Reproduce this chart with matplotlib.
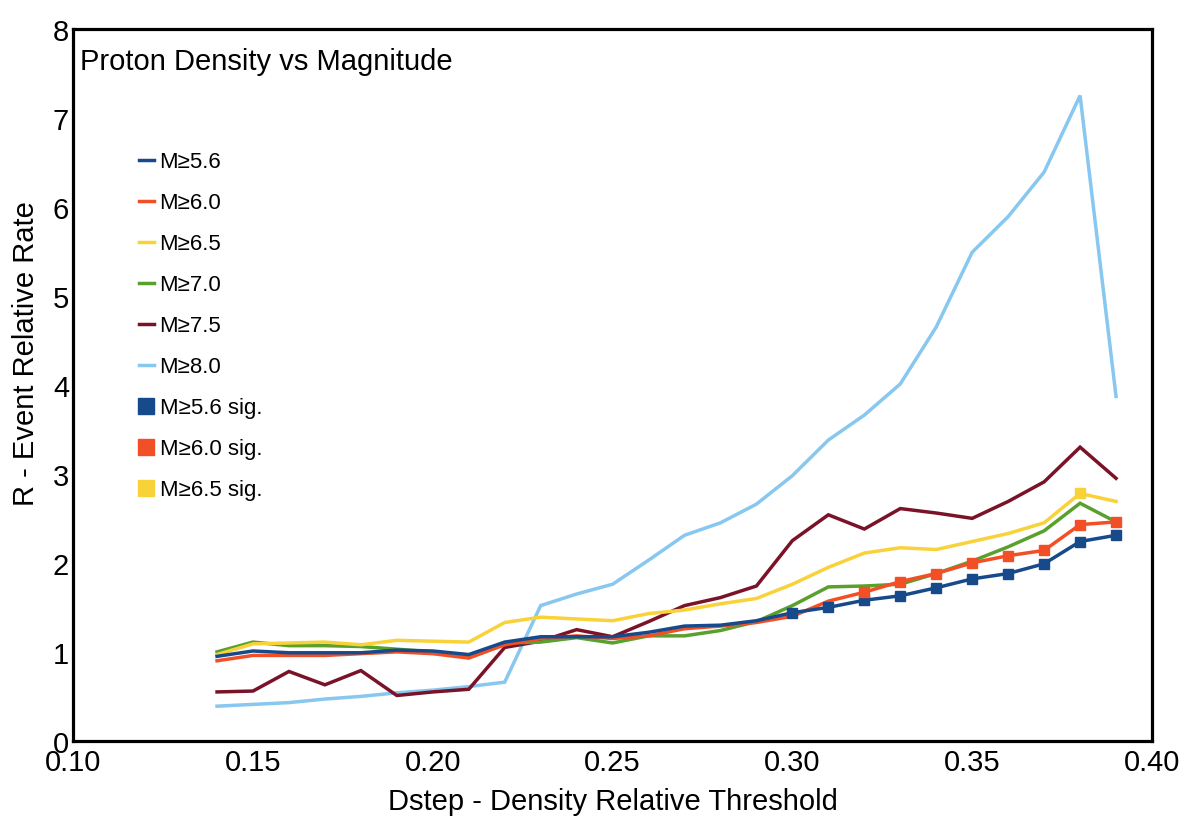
import matplotlib
matplotlib.use("Agg")
import matplotlib.pyplot as plt
from matplotlib.lines import Line2D

plt.rcParams['font.family'] = ['Liberation Sans', 'DejaVu Sans']

dstep = [0.14, 0.15, 0.16, 0.17, 0.18, 0.19, 0.20, 0.21, 0.22, 0.23, 0.24, 0.25, 0.26,
         0.27, 0.28, 0.29, 0.30, 0.31, 0.32, 0.33, 0.34, 0.35, 0.36, 0.37, 0.38, 0.39]

m56 = [0.95, 1.01, 0.99, 0.99, 0.99, 1.02, 1.01, 0.97, 1.11, 1.17, 1.17, 1.17, 1.22,
       1.29, 1.30, 1.35, 1.44, 1.50, 1.58, 1.63, 1.72, 1.82, 1.88, 1.99, 2.24, 2.31]
m60 = [0.90, 0.96, 0.96, 0.96, 0.98, 1.00, 0.98, 0.93, 1.08, 1.15, 1.18, 1.15, 1.18,
       1.26, 1.29, 1.33, 1.40, 1.57, 1.67, 1.79, 1.88, 2.00, 2.08, 2.14, 2.43, 2.46]
m65 = [0.97, 1.09, 1.10, 1.11, 1.08, 1.13, 1.12, 1.11, 1.33, 1.39, 1.37, 1.35, 1.43,
       1.47, 1.54, 1.60, 1.76, 1.95, 2.11, 2.17, 2.15, 2.24, 2.33, 2.45, 2.78, 2.69]
m70 = [1.00, 1.11, 1.07, 1.07, 1.06, 1.03, 1.00, 0.96, 1.10, 1.11, 1.16, 1.10, 1.18,
       1.18, 1.24, 1.34, 1.52, 1.73, 1.74, 1.76, 1.88, 2.02, 2.18, 2.36, 2.67, 2.46]
m75 = [0.55, 0.56, 0.78, 0.63, 0.79, 0.51, 0.55, 0.58, 1.05, 1.12, 1.25, 1.17, 1.34,
       1.52, 1.61, 1.74, 2.25, 2.54, 2.38, 2.61, 2.56, 2.50, 2.69, 2.91, 3.30, 2.95]
m80 = [0.39, 0.41, 0.43, 0.47, 0.50, 0.54, 0.57, 0.61, 0.66, 1.52, 1.65, 1.76, 2.03,
       2.31, 2.45, 2.66, 2.98, 3.38, 3.66, 4.01, 4.65, 5.49, 5.89, 6.39, 7.25, 3.87]

# first index from which each series is significant
sig56_from = 16   # 0.30
sig60_from = 18   # 0.32
sig65_idx = [24]  # 0.38 only

labels = ['M≥5.6', 'M≥6.0', 'M≥6.5', 'M≥7.0', 'M≥7.5', 'M≥8.0']
colors = ['#174a8b', '#f24f26', '#f9d23a', '#59a02d', '#7a1228', '#87c7f0']
series = [m56, m60, m65, m70, m75, m80]

fig = plt.figure(figsize=(12, 8.28), dpi=100)
ax = fig.add_axes([0.061, 0.104, 0.899, 0.860])

# draw from last to first so the low magnitudes sit on top
for vals, col in reversed(list(zip(series, colors))):
    ax.plot(dstep, vals, color=col, lw=2.5, solid_joinstyle='miter')

ax.plot(dstep[sig56_from:], m56[sig56_from:], 's', color=colors[0], ms=6.5)
ax.plot(dstep[sig60_from:], m60[sig60_from:], 's', color=colors[1], ms=6.5)
ax.plot([dstep[i] for i in sig65_idx], [m65[i] for i in sig65_idx], 's', color=colors[2], ms=6.5)

ax.set_xlim(0.10, 0.40)
ax.set_ylim(0, 8)
ax.set_xticks([0.10, 0.15, 0.20, 0.25, 0.30, 0.35, 0.40])
ax.set_xticklabels(['0.10', '0.15', '0.20', '0.25', '0.30', '0.35', '0.40'])
ax.set_yticks(range(0, 9))
ax.tick_params(axis='both', length=0, labelsize=21, pad=3)
ax.tick_params(axis='x', pad=5)
for sp in ax.spines.values():
    sp.set_linewidth(2.3)

ax.set_xlabel('Dstep - Density Relative Threshold', fontsize=21, labelpad=8)
ax.set_ylabel('R - Event Relative Rate', fontsize=21)
ax.yaxis.set_label_coords(-0.031, 0.545)

ax.text(0.006, 0.974, 'Proton Density vs Magnitude', transform=ax.transAxes,
        fontsize=21, va='top', ha='left')

handles = [Line2D([], [], color=c, lw=2.5) for c in colors]
handles += [Line2D([], [], color=colors[i], marker='s', ls='none', ms=11) for i in range(3)]
leg_labels = labels + ['M≥5.6 sig.', 'M≥6.0 sig.', 'M≥6.5 sig.']
ax.legend(handles, leg_labels, loc='upper left', bbox_to_anchor=(0.042, 0.856),
          frameon=False, fontsize=16, handlelength=0.7, handletextpad=0.25,
          labelspacing=0.9)

fig.savefig('out.png', dpi=100)
